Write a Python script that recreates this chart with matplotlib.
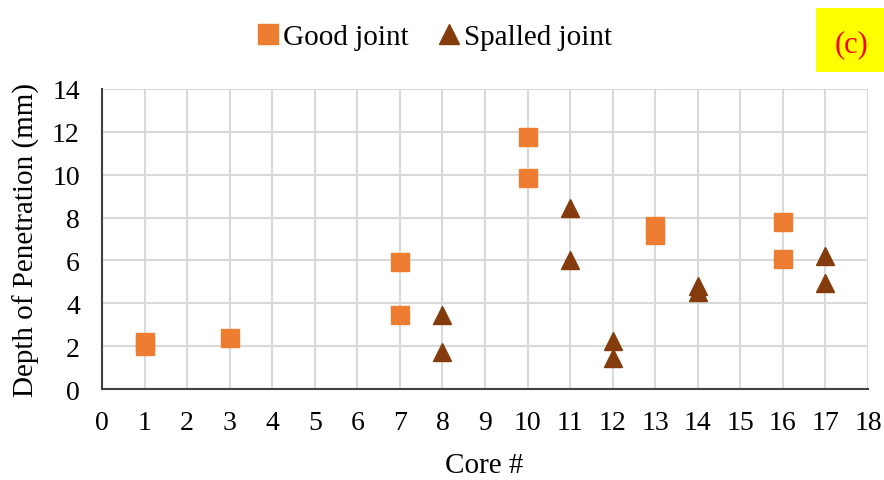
import matplotlib.pyplot as plt

plt.rcParams['font.family'] = ['Liberation Serif', 'DejaVu Serif']

# Good joint cores
good_x = [1, 1, 3, 7, 7, 10, 10, 13, 13, 16, 16]
good_y = [2.0, 2.2, 2.4, 5.95, 3.45, 11.75, 9.85, 7.6, 7.2, 7.8, 6.05]

# Spalled joint cores
spalled_x = [8, 8, 11, 11, 12, 12, 14, 14, 17, 17]
spalled_y = [3.45, 1.75, 8.45, 6.0, 2.25, 1.45, 4.8, 4.55, 6.2, 4.95]

x_ticks = list(range(0, 19))
y_ticks = list(range(0, 15, 2))

W, H = 884, 481
fig = plt.figure(figsize=(W/100, H/100), dpi=100)
ax = fig.add_axes([102/W, 1 - 390/H, 766/W, 300/H])

ax.plot(good_x, good_y, 's', color='#ED7D31', ms=13, mec='#ED7D31', label='Good joint', zorder=3)
ax.plot(spalled_x, spalled_y, '^', color='#843C0C', ms=13, mec='#843C0C', label='Spalled joint', zorder=3)

ax.set_xlim(0, 18)
ax.set_ylim(0, 14)
ax.set_xticks(x_ticks)
ax.set_yticks(y_ticks)
ax.grid(True, color='#d9d9d9', lw=1.5)
ax.set_axisbelow(True)
ax.tick_params(axis='x', length=0, labelsize=20, pad=15)
ax.tick_params(axis='y', length=0, labelsize=20, pad=16)
for s in ['top', 'right']:
    ax.spines[s].set_visible(False)
for s in ['left', 'bottom']:
    ax.spines[s].set_color('#404040')
    ax.spines[s].set_linewidth(1.5)

ax.set_xlabel('Core #', fontsize=21)
ax.set_ylabel('Depth of Penetration (mm)', fontsize=21)
ax.xaxis.set_label_coords((484 - 102)/766, -(453 - 390)/300)
ax.yaxis.set_label_coords(-(102 - 40)/766, 0.5)

fig.legend(loc='center', bbox_to_anchor=(434/W, 1 - 38/H), ncol=2, frameon=False,
           fontsize=21, handletextpad=0.1, columnspacing=1.0, handlelength=0.8,
           markerscale=1.1)

fig.patches.append(plt.Rectangle((816/W, 1 - 73/H), 68/W, 64/H, transform=fig.transFigure,
                                 fc='yellow', ec='none'))
fig.text(852/W, 1 - 45/H, '(c)', color='red', fontsize=22, ha='center', va='center')

fig.savefig('out.png', dpi=100)
